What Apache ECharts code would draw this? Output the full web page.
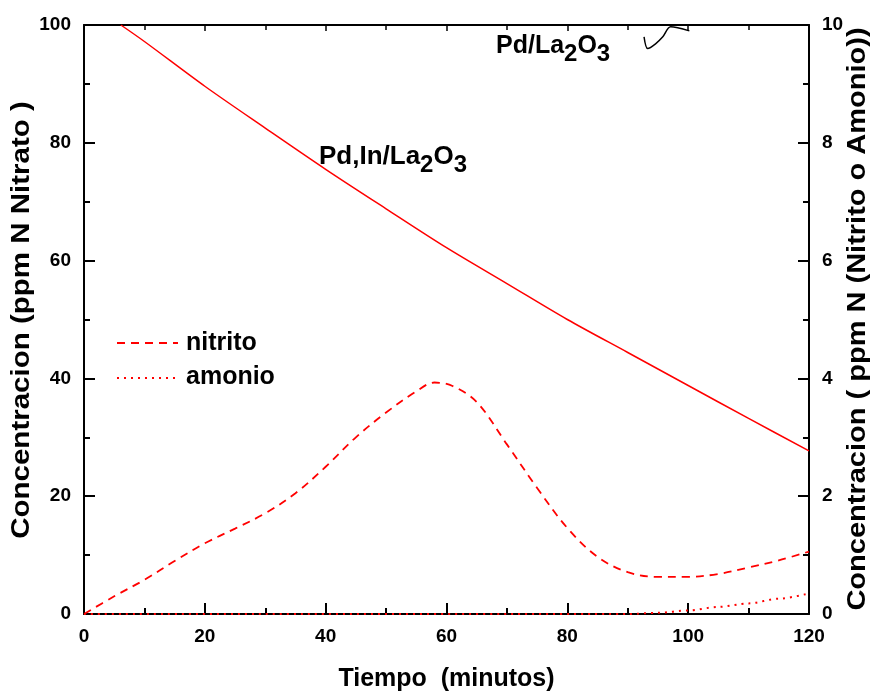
<!DOCTYPE html>
<html>
<head>
<meta charset="utf-8">
<script src="https://cdn.jsdelivr.net/npm/echarts@6/dist/echarts.min.js"></script>
<style>html,body{margin:0;padding:0;background:#fff}#c{width:874px;height:693px}</style>
</head>
<body>
<div id="c"></div>
<script>
// Nitrate (left axis, ppm N) for Pd,In/La2O3
const timeNitrate = [6.1, 10, 20, 30, 40, 50, 60, 70, 80, 90, 100, 110, 120];
const nitrate = [100, 97.2, 89.6, 82.5, 75.5, 68.8, 62.2, 56.1, 50.0, 44.4, 38.8, 33.2, 27.7];
// Nitrite (right axis)
const timeNitrite = [0, 5, 10, 15, 20, 25, 30, 35, 40, 45, 50, 55, 58, 61, 65, 70, 75, 80, 85, 90, 95, 100, 105, 110, 115, 120];
const nitrite = [0, 0.3, 0.58, 0.9, 1.2, 1.45, 1.71, 2.05, 2.5, 3.0, 3.42, 3.78, 3.93, 3.87, 3.6, 2.88, 2.14, 1.46, 0.97, 0.71, 0.63, 0.63, 0.68, 0.79, 0.91, 1.06];
// Ammonium (right axis)
const timeAmonio = [0, 90, 95, 100, 105, 110, 115, 120];
const amonio = [0, 0, 0.02, 0.06, 0.12, 0.18, 0.26, 0.35];
// Pd/La2O3 nitrate curve fragment visible near the top (left axis)
const timePd = [92.7, 93.3, 94.6, 95.8, 97.1, 100.2];
const nitratePd = [98.0, 96.0, 96.8, 98.0, 99.7, 99.0];
// Tick labels
const xTicks = [0, 20, 40, 60, 80, 100, 120];
const yLeftTicks = [0, 20, 40, 60, 80, 100];
const yRightTicks = [0, 2, 4, 6, 8, 10];

const zip = (a, b) => a.map((v, i) => [v, b[i]]);
const FONT = '"Liberation Sans", Arial, sans-serif';
const RED = '#ff0000';

const chart = echarts.init(document.getElementById('c'), null, {renderer: 'canvas'});
const axisCommon = {
  axisLine: {show: true, onZero: false, lineStyle: {color: '#000', width: 2}},
  axisTick: {show: true, inside: true, length: 11, lineStyle: {color: '#000', width: 2}},
  minorTick: {show: true, splitNumber: 2, length: 6, lineStyle: {color: '#000', width: 2}},
  splitLine: {show: false},
  minorSplitLine: {show: false}
};
const tickFont = {fontFamily: FONT, fontWeight: 'bold', fontSize: 19, color: '#000'};
chart.setOption({
  animation: false,
  backgroundColor: '#fff',
  grid: {left: 84, right: 65, top: 25, bottom: 79, containLabel: false, outerBoundsMode: 'none'},
  xAxis: [
    Object.assign({}, axisCommon, {
      type: 'value', position: 'bottom', min: 0, max: 120, interval: 20,
      name: 'Tiempo  (minutos)', nameLocation: 'middle', nameGap: 53,
      nameTextStyle: {fontFamily: FONT, fontWeight: 'bold', fontSize: 25, color: '#000'},
      axisLabel: Object.assign({margin: 13, formatter: v => xTicks.includes(v) ? String(v) : ''}, tickFont)
    }),
    Object.assign({}, axisCommon, {
      type: 'value', position: 'top', min: 0, max: 120, interval: 20,
      axisTick: {show: true, inside: true, length: 6, lineStyle: {color: '#000', width: 1.5}},
      minorTick: {show: true, splitNumber: 2, length: 5, lineStyle: {color: '#000', width: 1.5}},
      axisLabel: {show: false}
    })
  ],
  yAxis: [
    Object.assign({}, axisCommon, {
      type: 'value', position: 'left', min: 0, max: 100, interval: 20,
      axisLabel: Object.assign({margin: 13, formatter: v => yLeftTicks.includes(v) ? String(v) : ''}, tickFont)
    }),
    Object.assign({}, axisCommon, {
      type: 'value', position: 'right', min: 0, max: 10, interval: 2,
      axisLabel: Object.assign({margin: 13, formatter: v => yRightTicks.includes(v) ? String(v) : ''}, tickFont)
    })
  ],
  series: [
    {type: 'line', name: 'nitrato', xAxisIndex: 0, yAxisIndex: 0, data: zip(timeNitrate, nitrate),
      smooth: 0.3, showSymbol: false, lineStyle: {color: RED, width: 1.5}, z: 3},
    {type: 'line', name: 'nitrito', xAxisIndex: 0, yAxisIndex: 1, data: zip(timeNitrite, nitrite),
      smooth: 0.35, showSymbol: false, lineStyle: {color: RED, width: 1.8, type: [8, 6]}, z: 3},
    {type: 'line', name: 'amonio', xAxisIndex: 0, yAxisIndex: 1, data: zip(timeAmonio, amonio),
      smooth: 0.3, smoothMonotone: 'x', showSymbol: false, lineStyle: {color: RED, width: 2, type: [2, 5]}, z: 4},
    {type: 'line', name: 'Pd/La2O3', xAxisIndex: 0, yAxisIndex: 0, data: zip(timePd, nitratePd),
      smooth: 0.3, showSymbol: false, lineStyle: {color: '#000', width: 1.5}, z: 3}
  ],
  graphic: [
    {type: 'text', x: 22, y: 320, rotation: Math.PI / 2, scaleX: 1.18,
      style: {text: 'Concentracion (ppm N Nitrato )', align: 'center', verticalAlign: 'middle',
        fontFamily: FONT, fontWeight: 'bold', fontSize: 25, fill: '#000'}},
    {type: 'text', x: 858, y: 319, rotation: Math.PI / 2, scaleX: 1.16,
      style: {text: 'Concentracion ( ppm N (Nitrito o Amonio))', align: 'center', verticalAlign: 'middle',
        fontFamily: FONT, fontWeight: 'bold', fontSize: 25, fill: '#000'}},
    {type: 'line', shape: {x1: 117, y1: 343, x2: 178, y2: 343}, style: {stroke: RED, lineWidth: 1.8, lineDash: [8, 6]}},
    {type: 'text', x: 186, y: 343, style: {text: 'nitrito', verticalAlign: 'middle', fontFamily: FONT, fontWeight: 'bold', fontSize: 25, fill: '#000'}},
    {type: 'line', shape: {x1: 117, y1: 378, x2: 178, y2: 378}, style: {stroke: RED, lineWidth: 2, lineDash: [2, 5]}},
    {type: 'text', x: 186, y: 377, style: {text: 'amonio', verticalAlign: 'middle', fontFamily: FONT, fontWeight: 'bold', fontSize: 25, fill: '#000'}},
    {type: 'text', x: 496, y: 46, style: {
      text: '{m|Pd/La}{s|2}{m|O}{s|3}', verticalAlign: 'middle',
      rich: {
        m: {fontFamily: FONT, fontWeight: 'bold', fontSize: 25, fill: '#000'},
        s: {fontFamily: FONT, fontWeight: 'bold', fontSize: 24, fill: '#000', padding: [16, 0, 0, 0]}
      }}},
    {type: 'text', x: 319, y: 157, style: {
      text: '{m|Pd,In/La}{s|2}{m|O}{s|3}', verticalAlign: 'middle',
      rich: {
        m: {fontFamily: FONT, fontWeight: 'bold', fontSize: 26, fill: '#000'},
        s: {fontFamily: FONT, fontWeight: 'bold', fontSize: 24, fill: '#000', padding: [16, 0, 0, 0]}
      }}}
  ]
});
</script>
</body>
</html>
